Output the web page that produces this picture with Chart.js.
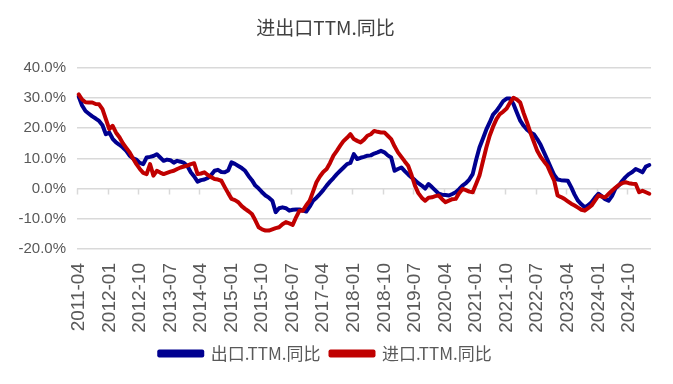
<!DOCTYPE html>
<html>
<head>
<meta charset="utf-8">
<script src="https://cdn.jsdelivr.net/npm/chart.js@4.4.1/dist/chart.umd.min.js"></script>
<style>
html,body{margin:0;padding:0;background:#fff;}
canvas{display:block;}
</style>
</head>
<body>
<canvas id="c" width="673" height="384"></canvas>
<script>
const startYear = 2011, startMonth = 4, monthCount = 169;
const months = [];
for (let i = 0; i < monthCount; i++) {
  const t = startMonth - 1 + i;
  const yy = startYear + Math.floor(t / 12);
  const mm = (t % 12) + 1;
  months.push(yy + '-' + String(mm).padStart(2, '0'));
}
const tickLabels = ['2011-04','2012-01','2012-10','2013-07','2014-04','2015-01','2015-10','2016-07','2017-04','2018-01','2018-10','2019-07','2020-04','2021-01','2021-10','2022-07','2023-04','2024-01','2024-10'];

const exportTTM = [
30.5,27.5,25.7,24.8,23.9,23.2,22.4,21.0,18.0,18.6,16.5,15.3,14.5,13.6,12.5,10.9,10.0,9.6,8.5,8.1,
10.3,10.5,10.8,11.4,10.3,9.2,9.6,9.4,8.6,9.2,8.9,8.5,7.5,5.4,4.0,2.3,2.8,3.0,3.5,4.5,
5.9,6.2,5.5,5.4,6.0,8.7,8.2,7.5,6.8,5.9,4.2,2.8,1.0,0.0,-1.2,-2.3,-3.0,-4.0,-7.8,-6.5,
-6.2,-6.5,-7.3,-7.0,-6.9,-6.9,-7.3,-7.6,-6.0,-4.0,-3.0,-1.8,-0.5,1.0,2.3,3.5,4.8,5.9,7.0,8.1,
8.5,11.4,9.8,10.2,10.5,10.9,11.0,11.6,12.0,12.5,12.0,11.0,10.3,5.9,6.5,7.0,5.8,4.7,3.7,2.8,
1.8,1.0,0.0,1.5,0.5,-0.6,-1.7,-2.0,-2.1,-2.3,-1.8,-1.2,-0.2,1.0,1.8,3.0,4.8,9.5,13.6,16.5,
19.5,21.9,24.5,25.7,27.3,29.0,29.8,29.8,28.0,25.2,22.5,20.8,19.5,18.6,18.0,16.4,14.5,12.0,9.5,7.0,
4.5,3.0,2.8,2.7,2.6,0.5,-2.0,-4.0,-5.2,-6.2,-5.5,-4.5,-3.0,-1.7,-2.5,-3.5,-4.0,-2.5,0.0,1.0,
2.5,3.8,4.8,5.5,6.5,6.0,5.4,7.3,7.8
];

const importTTM = [
31.2,29.5,28.6,28.5,28.5,28.0,27.9,26.3,23.0,19.7,20.8,18.5,17.0,15.0,13.5,12.0,10.0,8.1,6.5,5.2,
4.8,8.1,4.3,5.9,5.3,4.8,5.2,5.6,5.9,6.5,7.0,7.3,7.6,8.1,8.4,4.8,5.0,5.4,4.5,3.8,
3.2,3.0,2.6,0.5,-1.5,-3.4,-3.8,-4.5,-5.8,-6.7,-7.5,-8.4,-10.5,-12.8,-13.5,-13.9,-13.9,-13.5,-13.1,-12.8,
-11.8,-11.1,-11.5,-12.0,-9.5,-7.3,-7.3,-5.5,-4.0,-1.0,2.1,4.0,5.5,6.5,8.5,10.9,12.5,14.2,15.8,16.8,
18.0,16.4,15.8,15.3,16.2,17.5,18.0,19.1,18.8,18.6,18.6,17.5,16.4,14.0,12.0,10.5,9.0,7.6,4.5,1.0,
-1.5,-3.0,-4.0,-3.0,-2.9,-2.5,-2.3,-3.5,-4.5,-4.0,-3.5,-3.4,-1.5,-0.1,-0.5,-1.0,-1.2,1.5,4.3,9.0,
13.5,17.5,20.5,23.0,24.7,25.5,26.5,28.5,30.1,29.5,28.5,25.0,21.9,18.5,15.5,12.5,10.5,9.0,7.6,5.0,
2.6,-2.3,-2.8,-3.4,-4.2,-5.0,-5.6,-6.3,-7.0,-7.3,-6.5,-5.6,-4.0,-2.3,-2.6,-2.9,-1.8,-0.7,0.3,1.2,
1.8,2.1,1.8,1.6,1.5,-1.2,-0.7,-1.2,-1.7
];

const yMin = -20, yMax = 40, yStep = 10;
const gridColor = '#d9d9d9';
const textColor = '#595959';

const zeroAxisTicks = {
  id: 'zeroAxisTicks',
  beforeDatasetsDraw(chart) {
    const xs = chart.scales.x, ys = chart.scales.y, ctx = chart.ctx;
    const y0 = ys.getPixelForValue(0);
    const half = (xs.getPixelForValue(1) - xs.getPixelForValue(0)) / 2;
    ctx.save();
    ctx.strokeStyle = gridColor;
    ctx.lineWidth = 1.5;
    ctx.beginPath();
    months.forEach((m, i) => {
      if (tickLabels.includes(m)) {
        const px = Math.round(xs.getPixelForValue(i) - half) + 0.5;
        ctx.moveTo(px, y0);
        ctx.lineTo(px, y0 + 6);
      }
    });
    ctx.stroke();
    ctx.restore();
  }
};

new Chart(document.getElementById('c'), {
  type: 'line',
  data: {
    labels: months,
    datasets: [
      { label: '出口.TTM.同比', data: exportTTM, borderColor: '#000090', backgroundColor: '#000090', order: 2 },
      { label: '进口.TTM.同比', data: importTTM, borderColor: '#c00000', backgroundColor: '#c00000', order: 1 }
    ]
  },
  options: {
    responsive: false,
    devicePixelRatio: 1,
    animation: false,
    elements: {
      line: { borderWidth: 4, tension: 0, borderJoinStyle: 'round', borderCapStyle: 'round', fill: false },
      point: { radius: 0, hoverRadius: 0 }
    },
    layout: { padding: { left: 0, right: 22, top: 0, bottom: 12 } },
    plugins: {
      title: {
        display: true,
        text: '进出口TTM.同比',
        color: '#404040',
        font: { family: '"Noto Sans CJK SC", sans-serif', size: 19, weight: 'normal' },
        padding: { top: 16, bottom: 29 }
      },
      legend: {
        position: 'bottom',
        labels: {
          color: textColor,
          font: { family: '"Noto Sans CJK SC", sans-serif', size: 17 },
          boxWidth: 43,
          boxHeight: 4,
          padding: 10,
          sort: (a, b) => a.datasetIndex - b.datasetIndex
        }
      },
      tooltip: { enabled: false }
    },
    scales: {
      x: {
        type: 'category',
        offset: true,
        grid: { display: false, drawTicks: false },
        border: { display: false },
        ticks: {
          autoSkip: false,
          maxRotation: 90,
          minRotation: 90,
          padding: 14,
          color: textColor,
          font: { family: '"Liberation Sans", sans-serif', size: 19 },
          callback: function (v, i) {
            const l = this.getLabelForValue(v);
            return tickLabels.includes(l) ? l : null;
          }
        },
        afterFit: s => { s.height = 86; }
      },
      y: {
        min: yMin, max: yMax,
        grid: { color: gridColor, lineWidth: 1.5, drawTicks: false },
        border: { display: false },
        ticks: {
          stepSize: yStep,
          padding: 11,
          color: textColor,
          font: { family: '"Liberation Sans", sans-serif', size: 15 },
          callback: v => v.toFixed(1) + '%'
        },
        afterFit: s => { s.width = 77; }
      }
    }
  },
  plugins: [zeroAxisTicks]
});
</script>
</body>
</html>
